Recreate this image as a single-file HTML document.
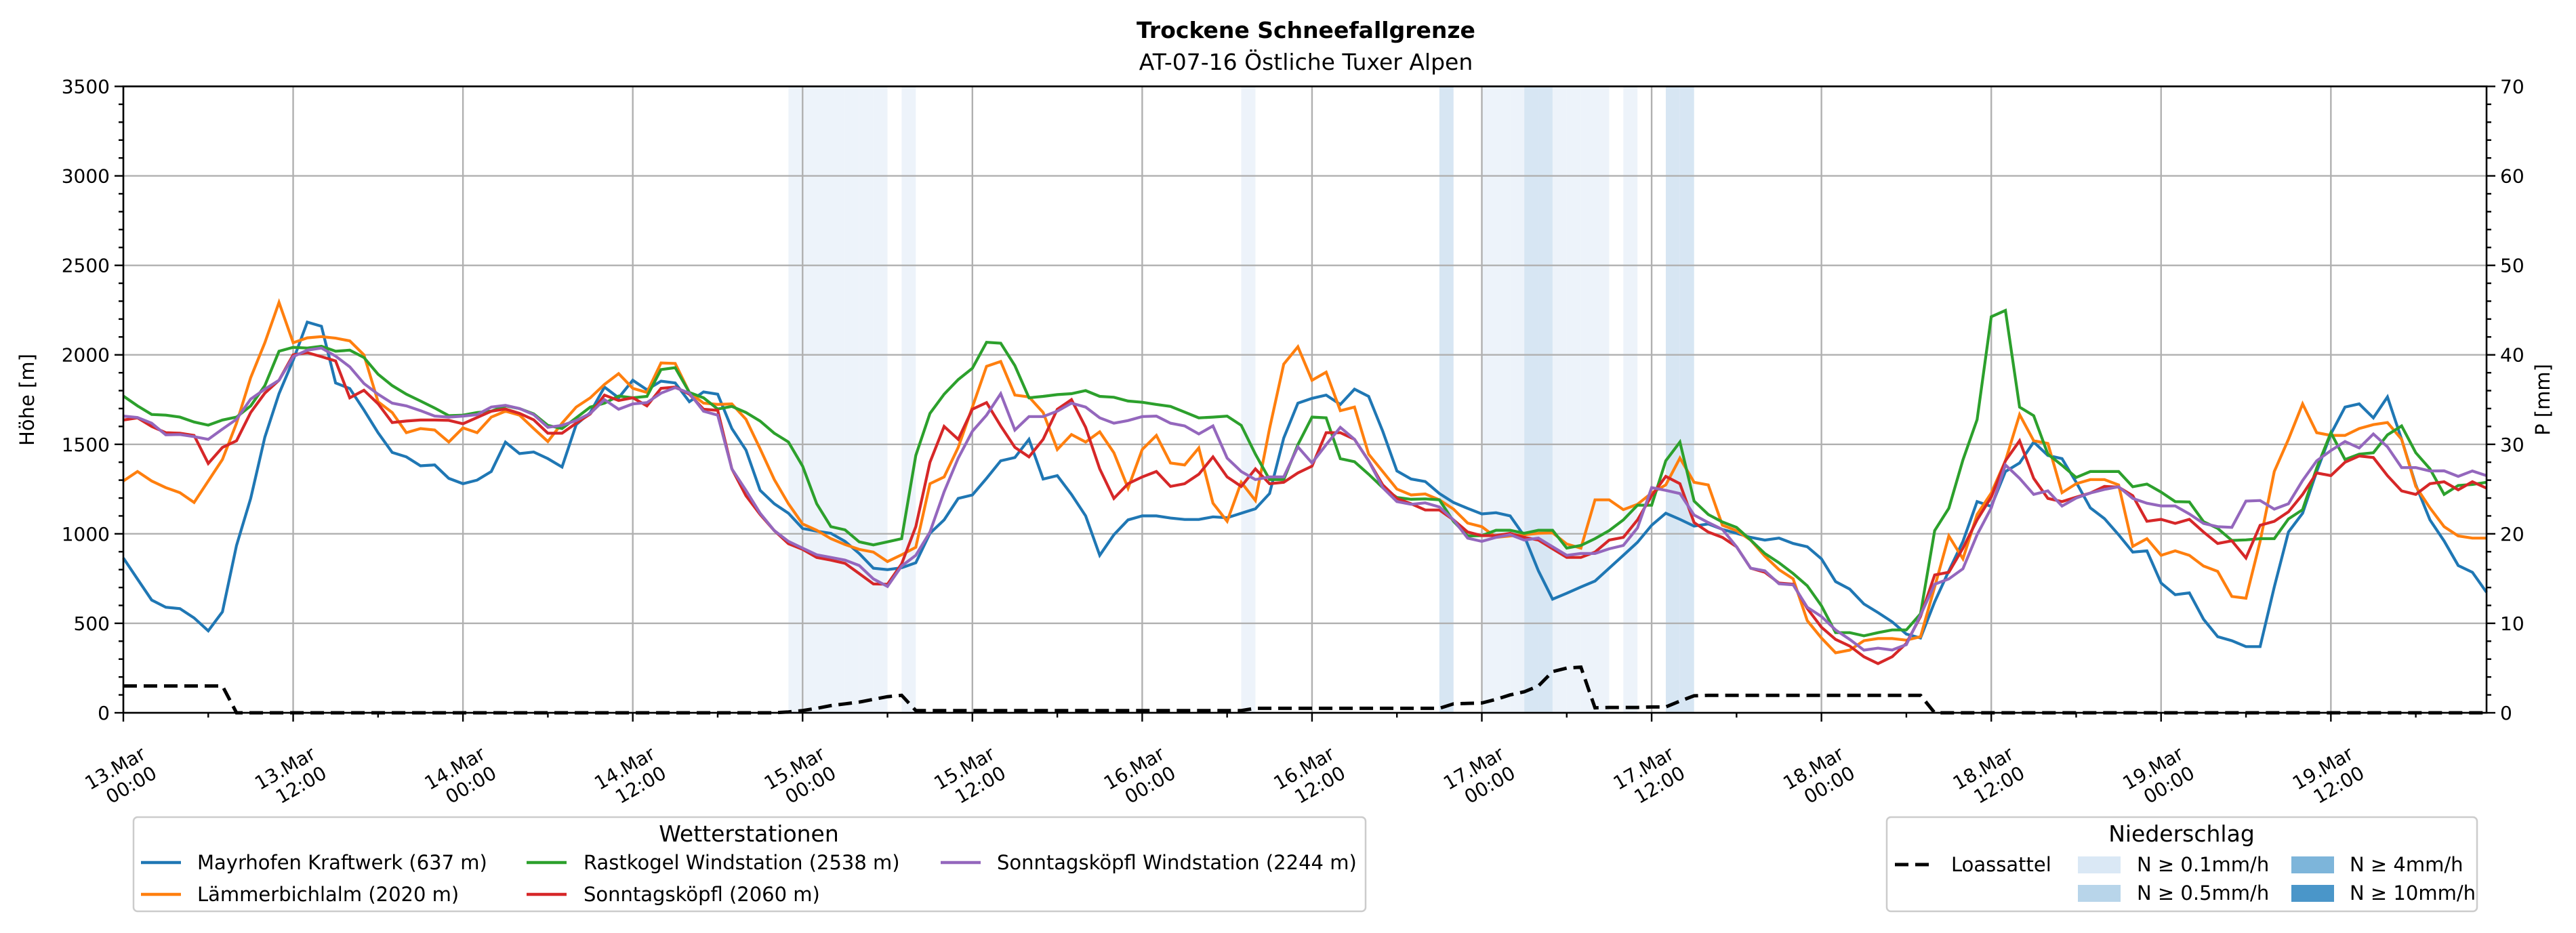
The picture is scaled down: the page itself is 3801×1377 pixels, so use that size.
<!DOCTYPE html>
<html><head><meta charset="utf-8"><style>
html,body{margin:0;padding:0;background:#fff;}
svg{display:block;font-family:"DejaVu Sans","Liberation Sans",sans-serif;}
</style></head><body>
<svg id="chart" width="3801" height="1377" viewBox="0 0 3801 1377" xmlns="http://www.w3.org/2000/svg">
<rect x="0" y="0" width="3801" height="1377" fill="#fff"/>
<text x="1927" y="56" font-size="33" font-weight="bold" text-anchor="middle">Trockene Schneefallgrenze</text>
<text x="1927" y="103" font-size="33" text-anchor="middle">AT-07-16 Östliche Tuxer Alpen</text>
<g id="bands"></g>
<g id="grid"></g>
<g id="series"></g>
<g id="axes"></g>
<text transform="translate(50,590) rotate(-90)" font-size="29" text-anchor="middle">Höhe [m]</text>
<text transform="translate(3762,590) rotate(-90)" font-size="29" text-anchor="middle">P [mm]</text>

<g>
<rect x="197" y="1206" width="1818" height="139" rx="6" fill="#fff" fill-opacity="0.8" stroke="#cccccc" stroke-width="2.5"/>
<text x="1105" y="1242" font-size="33" text-anchor="middle">Wetterstationen</text>
<g><line x1="208" y1="1273" x2="267" y2="1273" stroke="#1f77b4" stroke-width="4.5"/><text x="291" y="1283" font-size="29">Mayrhofen Kraftwerk (637 m)</text></g>
<g><line x1="208" y1="1320" x2="267" y2="1320" stroke="#ff7f0e" stroke-width="4.5"/><text x="291" y="1330" font-size="29">Lämmerbichlalm (2020 m)</text></g>
<g><line x1="777" y1="1273" x2="836" y2="1273" stroke="#2ca02c" stroke-width="4.5"/><text x="861" y="1283" font-size="29">Rastkogel Windstation (2538 m)</text></g>
<g><line x1="777" y1="1320" x2="836" y2="1320" stroke="#d62728" stroke-width="4.5"/><text x="861" y="1330" font-size="29">Sonntagsköpfl (2060 m)</text></g>
<g><line x1="1388" y1="1273" x2="1447" y2="1273" stroke="#9467bd" stroke-width="4.5"/><text x="1471" y="1283" font-size="29">Sonntagsköpfl Windstation (2244 m)</text></g>
</g>

<g>
<rect x="2784" y="1206" width="871" height="139" rx="6" fill="#fff" fill-opacity="0.8" stroke="#cccccc" stroke-width="2.5"/>
<text x="3219" y="1242" font-size="33" text-anchor="middle">Niederschlag</text>
<g><line x1="2796" y1="1276" x2="2852" y2="1276" stroke="#000" stroke-width="5" stroke-dasharray="20 10"/><text x="2879" y="1286" font-size="29">Loassattel</text></g>
<g><rect x="3066" y="1264" width="63" height="25" fill="#dae8f5"/><text x="3153" y="1286" font-size="29">N ≥ 0.1mm/h</text></g>
<g><rect x="3066" y="1306" width="63" height="25" fill="#b8d5ea"/><text x="3153" y="1328" font-size="29">N ≥ 0.5mm/h</text></g>
<g><rect x="3381" y="1264" width="63" height="25" fill="#7db5da"/><text x="3467" y="1286" font-size="29">N ≥ 4mm/h</text></g>
<g><rect x="3381" y="1306" width="63" height="25" fill="#4a96c9"/><text x="3467" y="1328" font-size="29">N ≥ 10mm/h</text></g>
</g>
</svg>
<script>
const mayrhofen = [865,747,630,590,582,530,458,564,935,1198,1540,1783,1970,2183,2160,1843,1812,1692,1565,1455,1430,1380,1385,1310,1280,1300,1348,1512,1448,1457,1420,1373,1610,1678,1820,1760,1858,1805,1853,1843,1738,1793,
1780,1588,1468,1243,1168,1115,1030,1015,1003,958,890,808,800,810,838,1003,1078,1198,1217,1310,1408,1426,1528,1306,1325,1220,1100,880,995,1078,1100,1100,1088,1080,1080,1095,1090,1115,1140,1225,1535,
1730,1757,1775,1723,1808,1768,1573,1351,1306,1292,1225,1175,1142,1111,1118,1100,988,793,635,668,703,736,808,880,953,1048,1115,1081,1043,1055,1025,1003,980,965,976,946,928,860,733,691,608,
560,508,440,418,620,793,958,1180,1153,1348,1396,1513,1438,1420,1288,1145,1085,995,898,905,725,660,670,523,425,403,370,370,703,1010,1115,1348,1558,1708,1726,1648,1765,1528,1273,1078,960,823,785,673];
const laemmerbichlalm = [1295,1348,1295,1258,1230,1175,1295,1415,1618,1873,2068,2293,2068,2095,2102,2093,2078,2000,1738,1678,1565,1588,1580,1513,1592,1565,1652,1685,1663,1588,1516,1618,1708,1760,1835,1895,1813,1790,1955,1952,1790,1730,
1723,1726,1640,1475,1303,1168,1055,1020,973,940,913,898,845,883,925,1280,1318,1483,1708,1936,1963,1775,1765,1678,1471,1555,1513,1570,1453,1255,1471,1550,1396,1385,1480,1171,1070,1288,1186,1588,1948,
2045,1858,1903,1688,1708,1445,1348,1250,1217,1223,1190,1138,1060,1040,980,988,995,1003,1006,943,920,1190,1190,1135,1165,1228,1273,1423,1288,1273,1048,1018,965,875,800,748,515,418,335,350,403,
415,415,406,425,703,988,860,1108,1228,1408,1666,1520,1505,1230,1280,1303,1303,1273,930,973,880,905,880,820,790,650,640,958,1348,1528,1726,1565,1550,1550,1588,1610,1622,1528,1265,1145,1040,988,976,976];
const rastkogel = [1770,1715,1667,1663,1652,1625,1607,1636,1652,1715,1828,2020,2042,2038,2048,2020,2026,1985,1892,1828,1780,1742,1703,1660,1663,1678,1685,1715,1700,1670,1606,1588,1648,1708,1730,1770,1760,1768,1918,1928,1790,1760,
1697,1712,1678,1630,1562,1513,1378,1168,1040,1022,955,938,955,973,1438,1673,1780,1862,1925,2070,2065,1940,1760,1768,1778,1783,1800,1768,1763,1742,1735,1723,1712,1680,1648,1652,1658,1606,1445,1303,1303,
1498,1652,1648,1420,1403,1333,1258,1203,1193,1195,1190,1070,988,990,1020,1020,1003,1020,1020,920,935,973,1018,1078,1160,1160,1408,1513,1183,1108,1066,1036,965,890,838,778,710,598,448,448,430,
448,463,463,553,1018,1143,1413,1638,2213,2248,1708,1660,1445,1383,1315,1348,1348,1348,1263,1278,1233,1180,1178,1068,1030,963,966,973,973,1083,1135,1368,1565,1415,1445,1453,1553,1603,1453,1363,1220,1270,1276,1288];
const sonntagskoepfl = [1636,1648,1600,1565,1562,1550,1393,1483,1520,1678,1786,1858,2000,2012,1990,1966,1760,1802,1727,1622,1630,1636,1636,1634,1615,1650,1685,1697,1673,1637,1562,1562,1618,1670,1775,1745,1760,1715,1813,1820,1780,1696,
1690,1363,1213,1108,1018,945,913,868,853,835,778,720,718,832,1040,1400,1600,1528,1696,1733,1603,1483,1430,1528,1696,1750,1595,1363,1198,1280,1318,1348,1265,1280,1333,1430,1318,1265,1363,1280,1288,
1340,1378,1565,1565,1528,1408,1273,1198,1168,1133,1133,1078,1010,990,990,1003,980,965,916,868,868,898,965,980,1078,1213,1321,1280,1063,1010,980,928,808,785,725,718,583,478,410,373,313,
275,313,388,538,770,785,920,1078,1205,1408,1520,1310,1198,1180,1205,1228,1265,1261,1213,1070,1081,1058,1081,1010,946,961,865,1048,1070,1123,1220,1340,1325,1400,1435,1426,1325,1240,1220,1280,1291,1246,1291,1255];
const sonntagskoepflWind = [1658,1650,1618,1553,1555,1543,1528,1585,1640,1753,1808,1858,1990,2026,2038,1993,1933,1840,1780,1730,1715,1688,1658,1652,1658,1666,1708,1718,1700,1666,1595,1606,1633,1673,1750,1696,1726,1733,1786,1817,1786,1685,
1663,1363,1243,1115,1018,958,920,883,868,853,823,748,706,820,880,1010,1235,1423,1573,1663,1783,1580,1655,1655,1685,1730,1708,1648,1618,1633,1655,1658,1618,1603,1558,1603,1423,1348,1303,1318,1318,
1486,1396,1498,1595,1528,1408,1258,1180,1165,1173,1150,1078,976,958,980,995,965,976,928,880,890,890,916,935,1033,1258,1243,1225,1105,1063,1025,928,808,793,721,715,590,538,463,410,350,
361,351,381,546,718,748,805,995,1145,1385,1310,1220,1240,1155,1200,1228,1248,1263,1198,1171,1156,1156,1111,1058,1040,1036,1183,1186,1138,1168,1298,1408,1465,1516,1480,1558,1486,1370,1370,1351,1352,1321,1351,1325];
const loassattel = [3,3,3,3,3,3,3,3,
0,0,0,0,0,0,0,0,0,0,0,0,0,0,0,0,0,0,0,0,0,0,0,0,0,0,0,0,0,0,0,0,0,0,0,0,0,0,0,
0.1,0.25,0.5,0.8,1.0,1.2,1.5,1.8,1.95,
0.25,0.25,0.25,0.25,0.25,0.25,0.25,0.25,0.25,0.25,0.25,0.25,0.25,0.25,0.25,0.25,0.25,0.25,0.25,0.25,0.25,0.25,0.25,0.25,
0.5,0.5,0.5,0.5,0.5,0.5,0.5,0.5,0.5,0.5,0.5,0.5,0.5,0.5,
1.0,1.05,1.1,1.5,2.0,2.35,3.0,4.6,5.0,5.1,
0.55,0.6,0.6,0.6,0.65,0.65,
1.3,1.9,
1.95,1.95,1.95,1.95,1.95,1.95,1.95,1.95,1.95,1.95,1.95,1.95,1.95,1.95,1.95,1.95,
0,0,0,0,0,0,0,0,0,0,0,0,0,0,0,0,0,0,0,0,0,0,0,0,0,0,0,0,0,0,0,0,0,0,0,0,0,0,0,0];
const precipLightHours = [47,48,49,50,51,52,53,55,79,96,97,98,101,102,103,104,106];
const precipMediumHours = [93,99,100,109,110];
const xTickDays = ["13.Mar","13.Mar","14.Mar","14.Mar","15.Mar","15.Mar","16.Mar","16.Mar","17.Mar","17.Mar","18.Mar","18.Mar","19.Mar","19.Mar"];
const xTickTimes = ["00:00","12:00","00:00","12:00","00:00","12:00","00:00","12:00","00:00","12:00","00:00","12:00","00:00","12:00"];
const yTicks = [0,500,1000,1500,2000,2500,3000,3500];
const y2Ticks = [0,10,20,30,40,50,60,70];

const L=182, R=3669, T=127.5, B=1052, NH=167;
const X = h => L + (R-L)*h/NH;
const Y = v => B - (B-T)*v/3500;
const Y2 = p => B - (B-T)*p/70;
const NS="http://www.w3.org/2000/svg";
function mk(parent, tag, attrs){const e=document.createElementNS(NS,tag);for(const k in attrs)e.setAttribute(k,attrs[k]);parent.appendChild(e);return e;}

const bands=document.getElementById('bands');
precipLightHours.forEach(h=>{const r=mk(bands,'rect',{x:X(h),y:T,width:X(h+1)-X(h),height:B-T,fill:'#edf3fa'});

});
precipMediumHours.forEach(h=>{const r=mk(bands,'rect',{x:X(h),y:T,width:X(h+1)-X(h),height:B-T,fill:'#d7e6f3'});

});

const grid=document.getElementById('grid');
xTickDays.forEach((d,i)=>{const x=X(i*12);const l=mk(grid,'line',{x1:x,y1:T,x2:x,y2:B,stroke:'#b0b0b0','stroke-width':2.4});

});
yTicks.forEach(v=>{const l=mk(grid,'line',{x1:L,y1:Y(v),x2:R,y2:Y(v),stroke:'#b0b0b0','stroke-width':2.4});

});

const series=document.getElementById('series');
function pathOf(arr,fy){return arr.map((v,i)=>(i?'L':'M')+X(i).toFixed(1)+' '+fy(v).toFixed(1)).join(' ');}
const lp=mk(series,'path',{d:pathOf(loassattel,Y2),fill:'none',stroke:'#000','stroke-width':5,'stroke-dasharray':'20 10'});


const stations=[[mayrhofen,'#1f77b4','mayrhofen-line'],[laemmerbichlalm,'#ff7f0e','laemmerbichlalm-line'],[rastkogel,'#2ca02c','rastkogel-line'],[sonntagskoepfl,'#d62728','sonntagskoepfl-line'],[sonntagskoepflWind,'#9467bd','sonntagskoepfl-wind-line']];
stations.forEach(s=>{const p=mk(series,'path',{d:pathOf(s[0],Y),fill:'none',stroke:s[1],'stroke-width':4.2,'stroke-linejoin':'miter'});

});

const axes=document.getElementById('axes');
mk(axes,'rect',{x:L,y:T,width:R-L,height:B-T,fill:'none',stroke:'#000','stroke-width':2.6});
for(let v=0;v<=3500;v+=100){const maj=v%500===0;mk(axes,'line',{x1:L,y1:Y(v),x2:L-(maj?13:7),y2:Y(v),stroke:'#000','stroke-width':2.4});}
yTicks.forEach(v=>{const t=mk(axes,'text',{x:L-20,y:Y(v)+10,'font-size':28,'text-anchor':'end'});t.textContent=v;

});
for(let p=0;p<=70;p+=2){const maj=p%10===0;mk(axes,'line',{x1:R,y1:Y2(p),x2:R+(maj?13:7),y2:Y2(p),stroke:'#000','stroke-width':2.4});}
y2Ticks.forEach(p=>{const t=mk(axes,'text',{x:R+20,y:Y2(p)+10,'font-size':28});t.textContent=p;

});
for(let h=0;h<=NH;h+=6){const maj=h%12===0;mk(axes,'line',{x1:X(h),y1:B,x2:X(h),y2:B+(maj?13:7),stroke:'#000','stroke-width':2.4});}
xTickDays.forEach((d,i)=>{const x=X(i*12);const g=mk(axes,'g',{transform:`translate(${x+35},1118) rotate(-30)`});


const t1=mk(g,'text',{x:0,y:0,'font-size':28,'text-anchor':'end'});t1.textContent=d;
const t2=mk(g,'text',{x:0,y:33,'font-size':28,'text-anchor':'end'});t2.textContent=xTickTimes[i];});
</script>
</body></html>
